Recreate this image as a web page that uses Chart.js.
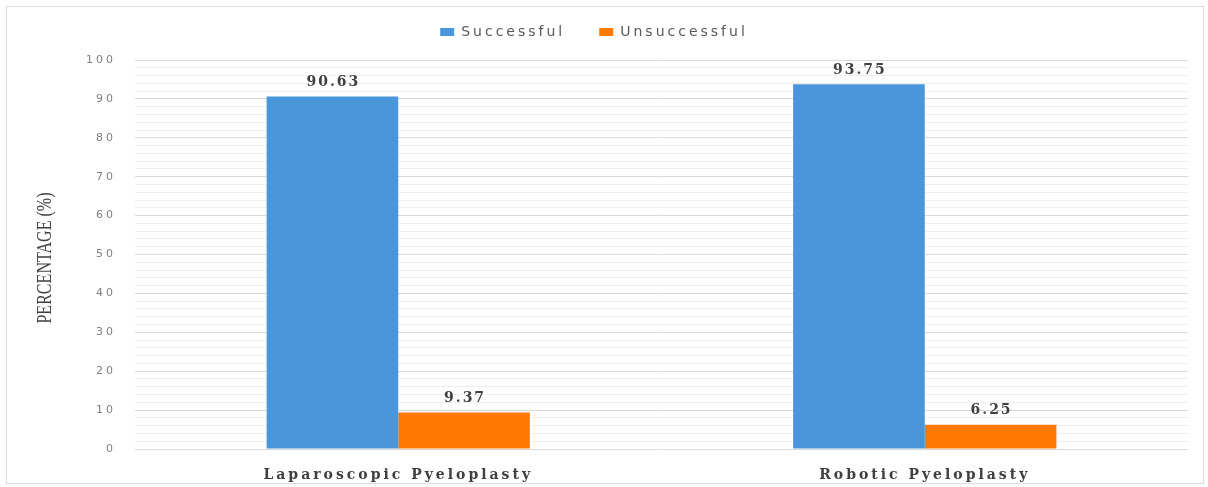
<!DOCTYPE html>
<html lang="en">
<head>
    <meta charset="UTF-8">
    <title>Pyeloplasty Outcomes</title>
    <script src="https://cdn.jsdelivr.net/npm/chart.js"></script>
    <style>
        body { margin: 0; background: #fff; }
        #wrap { position: relative; width: 1208px; height: 487px; }
        #frame { position: absolute; left: 6px; top: 6px; width: 1198px; height: 478px; border: 1px solid #dcdcdc; box-sizing: border-box; }
        #yTitle {
            position: absolute; left: 44px; top: 258px; width: 0; height: 0;
        }
        #yTitle span {
            position: absolute; white-space: nowrap;
            font-family: "Liberation Serif", serif; font-size: 22px; color: #404040;
            transform: translate(-50%, -50%) rotate(-90deg) scaleX(0.73);
        }
    </style>
</head>
<body>
    <div id="wrap">
        <div id="frame"></div>
        <canvas id="outcomeChart" width="1208" height="487"></canvas>
        <div id="yTitle"><span>PERCENTAGE (%)</span></div>
    </div>

    <script>
        const procedures = ['Laparoscopic Pyeloplasty', 'Robotic Pyeloplasty'];
        const successful = [90.63, 93.75];
        const unsuccessful = [9.37, 6.25];
        const seriesNames = ['Successful', 'Unsuccessful'];
        const yMin = 0;
        const yMax = 100;

        // value labels above each bar
        const barValues = {
            id: 'barValues',
            afterDatasetsDraw(chart) {
                const ctx = chart.ctx;
                ctx.save();
                ctx.letterSpacing = '2px';
                ctx.font = 'bold 14px "DejaVu Serif", serif';
                ctx.fillStyle = '#404040';
                ctx.textAlign = 'center';
                ctx.textBaseline = 'bottom';
                chart.data.datasets.forEach((ds, i) => {
                    chart.getDatasetMeta(i).data.forEach((bar, j) => {
                        ctx.fillText(ds.data[j].toFixed(2), bar.x + 1, bar.y - 7);
                    });
                });
                ctx.restore();
            }
        };

        // wide letter spacing used throughout, fixed legend band height
        const spacing = {
            id: 'spacing',
            beforeInit(chart) { chart.ctx.letterSpacing = '3px'; },
            beforeUpdate(chart) { chart.ctx.letterSpacing = '3px'; },
            afterInit(chart) {
                const legend = chart.legend;
                const fit = legend.fit;
                legend.fit = function () {
                    fit.call(this);
                    this.height = 69;
                };
            }
        };

        const ctx = document.getElementById('outcomeChart').getContext('2d');
        new Chart(ctx, {
            type: 'bar',
            data: {
                labels: procedures,
                datasets: [
                    { label: seriesNames[0], data: successful, backgroundColor: '#4a96da' },
                    { label: seriesNames[1], data: unsuccessful, backgroundColor: '#ff7a00' }
                ]
            },
            options: {
                responsive: false,
                animation: false,
                layout: { padding: { top: -9, right: 20, left: 0, bottom: 0 } },
                categoryPercentage: 0.5,
                barPercentage: 1,
                plugins: {
                    legend: {
                        position: 'top',
                        labels: {
                            boxWidth: 14,
                            boxHeight: 8,
                            padding: 34,
                            color: '#595959',
                            font: { family: '"DejaVu Sans", sans-serif', size: 14 }
                        }
                    },
                    tooltip: { enabled: false }
                },
                scales: {
                    x: {
                        grid: { display: false },
                        border: { display: false },
                        ticks: {
                            color: '#404040',
                            padding: 10,
                            font: { family: '"DejaVu Serif", serif', size: 14, weight: 'bold' }
                        },
                        afterFit(scale) { scale.height = 38; }
                    },
                    y: {
                        min: yMin,
                        max: yMax,
                        border: { display: false },
                        grid: {
                            drawTicks: false,
                            color: c => (c.tick.value % 10 === 0 ? '#d9d9d9' : '#efefef'),
                            lineWidth: 1
                        },
                        ticks: {
                            stepSize: 2,
                            autoSkip: false,
                            padding: 19,
                            color: '#808080',
                            font: { family: '"DejaVu Sans", sans-serif', size: 11 },
                            callback: v => (v % 10 === 0 ? v : '')
                        },
                        afterFit(scale) { scale.width = 135; }
                    }
                }
            },
            plugins: [spacing, barValues]
        });
    </script>
</body>
</html>
